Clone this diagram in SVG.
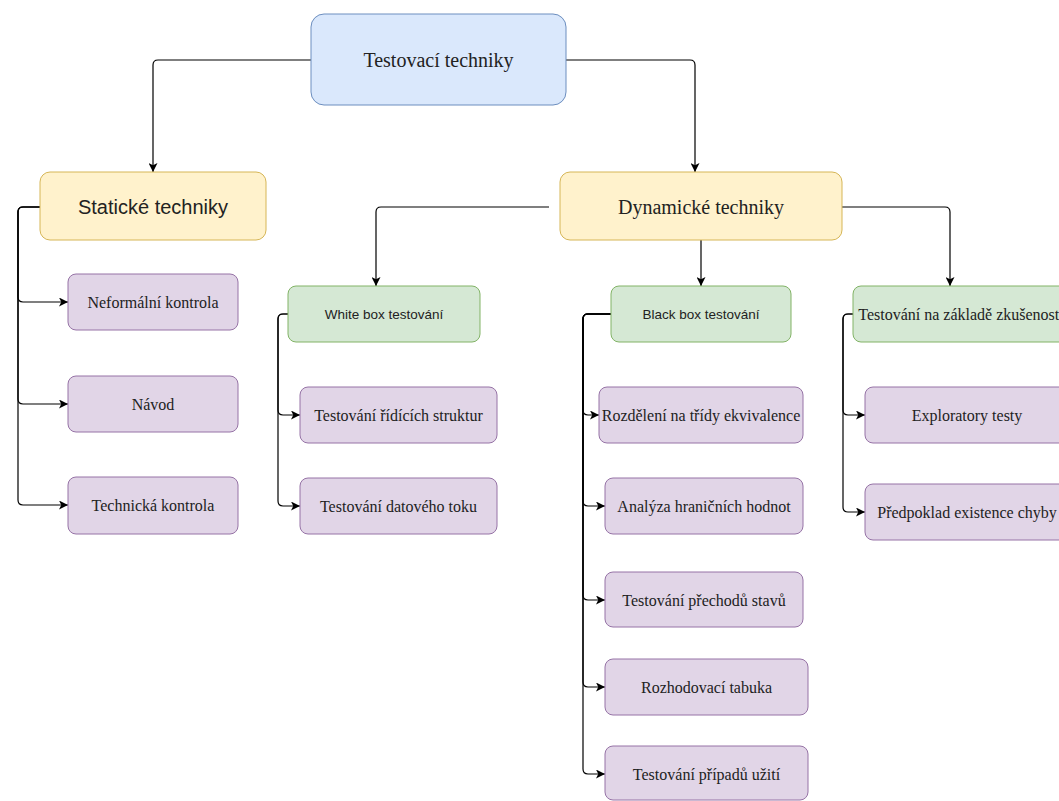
<svg xmlns="http://www.w3.org/2000/svg" width="1059" height="801" viewBox="0 0 1059 801">
<style>
.blue{fill:#dae8fc;stroke:#6c8ebf;stroke-width:1}
.yel{fill:#fff2cc;stroke:#d6b656;stroke-width:1}
.grn{fill:#d5e8d4;stroke:#82b366;stroke-width:1}
.pur{fill:#e1d5e7;stroke:#9673a6;stroke-width:1}
.serif{font-family:"Liberation Serif","Times New Roman",serif;fill:#222;text-anchor:middle;dominant-baseline:central}
.sans{font-family:"Liberation Sans",Arial,sans-serif;fill:#222;text-anchor:middle;dominant-baseline:central}
.big{font-size:20px}
.mid{font-size:16px}
.sm{font-size:13.5px}
.edge{fill:none;stroke:#000;stroke-width:1.2;marker-end:url(#arr)}
</style>
<defs>
<marker id="arr" viewBox="0 0 10 10" refX="10" refY="5" markerWidth="9" markerHeight="9" markerUnits="userSpaceOnUse" orient="auto">
<path d="M0,0 L10,5 L0,10 L2.5,5 z" fill="#000"/>
</marker>
</defs>
<rect width="1059" height="801" fill="#fff"/>
<g id="connectors">
<path class="edge" d="M311,60 H158 Q153,60 153,65 V172"/>
<path class="edge" d="M566,60 H690 Q695,60 695,65 V172"/>
<path class="edge" d="M40,207 H23 Q18,207 18,212 V297 Q18,302 23,302 H68"/>
<path class="edge" d="M40,207 H23 Q18,207 18,212 V399 Q18,404 23,404 H68"/>
<path class="edge" d="M40,207 H23 Q18,207 18,212 V500 Q18,505 23,505 H68"/>
<path class="edge" d="M549,207 H381 Q376,207 376,212 V286"/>
<path class="edge" d="M701,240 V286"/>
<path class="edge" d="M842,207 H945 Q950,207 950,212 V286"/>
<path class="edge" d="M288,314 H283 Q278,314 278,319 V410 Q278,415 283,415 H300"/>
<path class="edge" d="M288,314 H283 Q278,314 278,319 V501 Q278,506 283,506 H300"/>
<path class="edge" d="M611,314 H588 Q583,314 583,319 V410 Q583,415 588,415 H599"/>
<path class="edge" d="M611,314 H588 Q583,314 583,319 V501 Q583,506 588,506 H605"/>
<path class="edge" d="M611,314 H588 Q583,314 583,319 V595 Q583,600 588,600 H605"/>
<path class="edge" d="M611,314 H588 Q583,314 583,319 V682 Q583,687 588,687 H605"/>
<path class="edge" d="M611,314 H588 Q583,314 583,319 V769 Q583,774 588,774 H605"/>
<path class="edge" d="M853,314 H848 Q843,314 843,319 V410 Q843,415 848,415 H865"/>
<path class="edge" d="M853,314 H848 Q843,314 843,319 V507 Q843,512 848,512 H865"/>
</g>
<g id="n-root"><rect class="blue" x="311" y="14" width="255" height="91" rx="13"/><text class="serif big" x="438.5" y="60">Testovací techniky</text></g>
<g id="n-static"><rect class="yel" x="40" y="172" width="226" height="68" rx="10"/><text class="sans big" x="153" y="207">Statické techniky</text></g>
<g id="n-dynamic"><rect class="yel" x="560" y="172" width="282" height="68" rx="10"/><text class="serif big" x="701" y="207">Dynamické techniky</text></g>
<g id="n-neformalni"><rect class="pur" x="68" y="274" width="170" height="56" rx="8"/><text class="serif mid" x="153" y="302">Neformální kontrola</text></g>
<g id="n-navod"><rect class="pur" x="68" y="376" width="170" height="56" rx="8"/><text class="serif mid" x="153" y="404">Návod</text></g>
<g id="n-technicka"><rect class="pur" x="68" y="477" width="170" height="57" rx="8"/><text class="serif mid" x="153" y="505">Technická kontrola</text></g>
<g id="n-white"><rect class="grn" x="288" y="286" width="192" height="56" rx="8"/><text class="sans sm" x="384" y="314">White box testování</text></g>
<g id="n-black"><rect class="grn" x="611" y="286" width="180" height="56" rx="8"/><text class="sans sm" x="701" y="314">Black box testování</text></g>
<g id="n-exp"><rect class="grn" x="853" y="286" width="216" height="56" rx="8"/><text class="serif mid" x="961" y="314">Testování na základě zkušenosti</text></g>
<g id="n-ridicich"><rect class="pur" x="300" y="387" width="197" height="56" rx="8"/><text class="serif mid" x="398.5" y="415">Testování řídících struktur</text></g>
<g id="n-datoveho"><rect class="pur" x="300" y="478" width="197" height="56" rx="8"/><text class="serif mid" x="398.5" y="506">Testování datového toku</text></g>
<g id="n-rozdeleni"><rect class="pur" x="599" y="387" width="204" height="56" rx="8"/><text class="serif mid" x="701" y="415">Rozdělení na třídy ekvivalence</text></g>
<g id="n-analyza"><rect class="pur" x="605" y="478" width="198" height="56" rx="8"/><text class="serif mid" x="704" y="506">Analýza hraničních hodnot</text></g>
<g id="n-prechodu"><rect class="pur" x="605" y="572" width="198" height="55" rx="8"/><text class="serif mid" x="704" y="600">Testování přechodů stavů</text></g>
<g id="n-rozhodovaci"><rect class="pur" x="605" y="659" width="203" height="56" rx="8"/><text class="serif mid" x="706.5" y="687">Rozhodovací tabuka</text></g>
<g id="n-pripadu"><rect class="pur" x="605" y="746" width="203" height="54" rx="8"/><text class="serif mid" x="706.5" y="774">Testování případů užití</text></g>
<g id="n-exploratory"><rect class="pur" x="865" y="387" width="204" height="56" rx="8"/><text class="serif mid" x="967" y="415">Exploratory testy</text></g>
<g id="n-predpoklad"><rect class="pur" x="865" y="484" width="204" height="56" rx="8"/><text class="serif mid" x="967" y="512">Předpoklad existence chyby</text></g>
</svg>
